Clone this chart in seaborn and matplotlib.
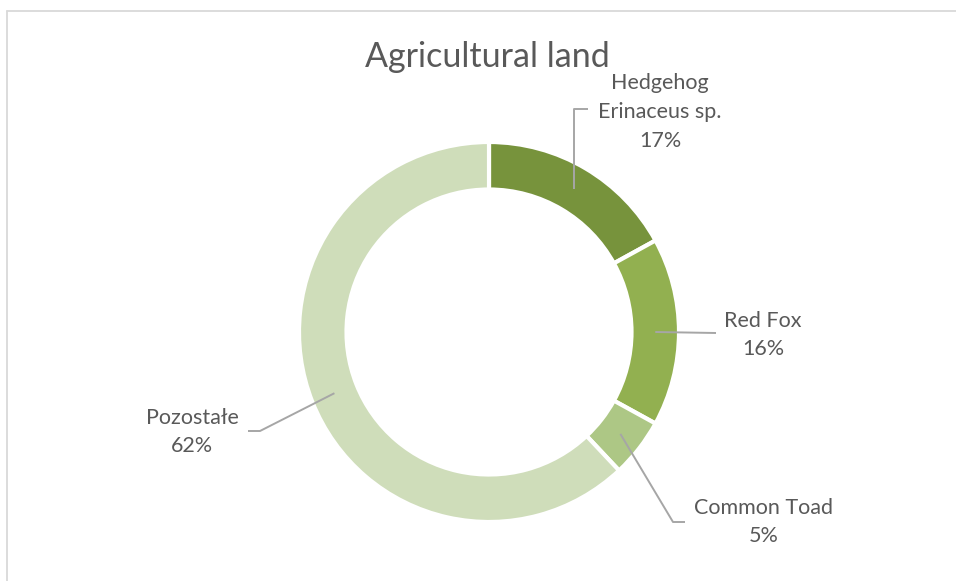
import numpy as np
import matplotlib
matplotlib.use("Agg")
import matplotlib.pyplot as plt
import seaborn as sns

# Share of records per species on agricultural land
species = ["Hedgehog\nErinaceus sp.", "Red Fox", "Common Toad", "Pozostałe"]
shares = [17, 16, 5, 62]
colors = ["#77933C", "#92B050", "#ADC785", "#CFDDBA"]
title = "Agricultural land"

sns.set_theme(style="white")
plt.rcParams["font.family"] = ["Lato", "DejaVu Sans"]

W, H = 956, 581
fig = plt.figure(figsize=(W / 100, H / 100), dpi=100)
ax = fig.add_axes([0, 0, 1, 1])

def py(y):
    # pixel row measured from the top -> data y
    return H - y

center = (489, py(332))
radius = 190
ring = 0.25

wedges, _ = ax.pie(
    shares, colors=colors, startangle=90, counterclock=False,
    center=center, radius=radius,
    wedgeprops=dict(width=radius * ring, edgecolor="white", linewidth=3),
)
ax.set_xlim(0, W)
ax.set_ylim(0, H)
ax.set_aspect("equal")
ax.axis("off")

# label placement: text centre and leader-line path (pixels from top)
layout = [
    dict(text=(660, 112), elbow="vertical", knee_y=109, end=(588, 109)),
    dict(text=(763, 335), elbow=None, end=(716, 333)),
    dict(text=(764, 522), elbow="slant", knee=(673, 522), end=(685, 522)),
    dict(text=(192, 432), elbow="slant", knee=(260, 431), end=(248, 431)),
]

mid_r = radius * (1 - ring / 2)
line_col = "#A6A6A6"
text_col = "#595959"
for w, name, val, lay in zip(wedges, species, shares, layout):
    ang = np.deg2rad((w.theta1 + w.theta2) / 2)
    ax_x = center[0] + mid_r * np.cos(ang)
    ax_y = center[1] + mid_r * np.sin(ang)
    xs, ys = [ax_x], [ax_y]
    if lay["elbow"] == "vertical":
        xs.append(ax_x); ys.append(py(lay["knee_y"]))
    elif lay["elbow"] == "slant":
        xs.append(lay["knee"][0]); ys.append(py(lay["knee"][1]))
    xs.append(lay["end"][0]); ys.append(py(lay["end"][1]))
    ax.plot(xs, ys, color=line_col, lw=1.4, solid_capstyle="butt")
    ax.text(lay["text"][0], py(lay["text"][1]), f"{name}\n{val}%",
            ha="center", va="center", fontsize=15.5, color=text_col,
            linespacing=1.55)

ax.text(487, py(57), title, ha="center", va="center", fontsize=24.5,
        color=text_col)

# chart frame
ax.plot([7.5, W], [py(10.5), py(10.5)], color="#D9D9D9", lw=1.3, clip_on=False)
ax.plot([7.5, 7.5], [py(10.5), 0], color="#D9D9D9", lw=1.3, clip_on=False)

fig.savefig("out.png", dpi=100, facecolor="white")
